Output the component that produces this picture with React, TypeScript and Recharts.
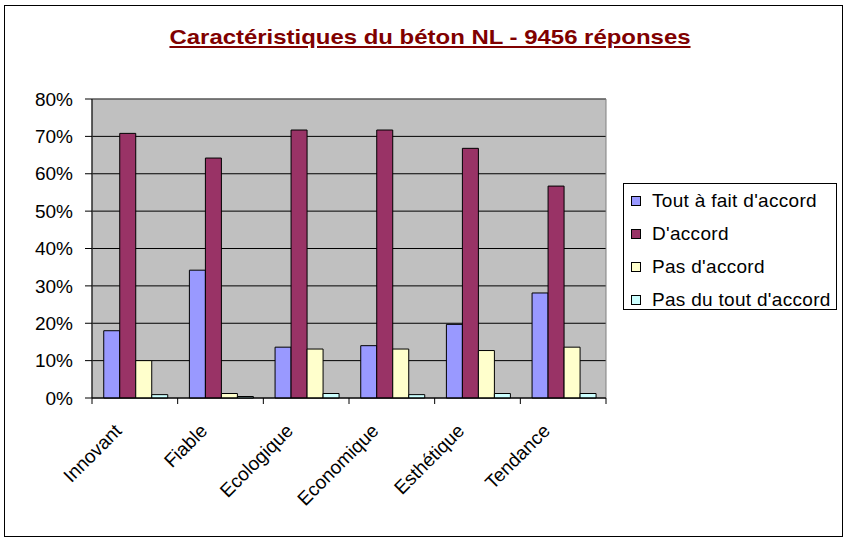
import React from 'react';
import {
  BarChart,
  Bar,
  XAxis,
  YAxis,
  CartesianGrid,
  Legend,
  ReferenceArea,
} from 'recharts';

const categories = ['Innovant', 'Fiable', 'Ecologique', 'Economique', 'Esthétique', 'Tendance'];
const toutAFait = [18.0, 34.2, 13.6, 14.0, 19.7, 28.1];
const dAccord = [70.8, 64.2, 71.7, 71.7, 66.8, 56.7];
const pasDAccord = [10.0, 1.2, 13.1, 13.1, 12.7, 13.6];
const pasDuTout = [0.9, 0.4, 1.2, 0.9, 1.2, 1.2];
const yTicks = [0, 10, 20, 30, 40, 50, 60, 70, 80];

const series = [
  { key: 'toutAFait', name: "Tout à fait d'accord", color: '#9999FF' },
  { key: 'dAccord', name: "D'accord", color: '#993366' },
  { key: 'pasDAccord', name: "Pas d'accord", color: '#FFFFCC' },
  { key: 'pasDuTout', name: "Pas du tout d'accord", color: '#CCFFFF' },
];

const data = categories.map((c, i) => ({
  name: c,
  toutAFait: toutAFait[i],
  dAccord: dAccord[i],
  pasDAccord: pasDAccord[i],
  pasDuTout: pasDuTout[i],
}));

const FONT = '"Liberation Sans", Arial, sans-serif';
const AXIS_Y = 398;

// rotated category label + Excel-style tick marks between categories
const XTick = (props: any) => {
  const { x, y, payload, index, visibleTicksCount } = props;
  const half = payload && payload.offset ? payload.offset : 0;
  const tx = x - 12;
  const ty = y + 26;
  const last = visibleTicksCount ? index === visibleTicksCount - 1 : false;
  return (
    <g>
      {half > 0 && <line x1={x - half} x2={x - half} y1={AXIS_Y} y2={AXIS_Y + 6} stroke="#000" />}
      {half > 0 && last && <line x1={x + half} x2={x + half} y1={AXIS_Y} y2={AXIS_Y + 6} stroke="#000" />}
      <text
        x={tx}
        y={ty}
        transform={`rotate(-45 ${tx} ${ty})`}
        textAnchor="end"
        fontSize={19}
        fontFamily={FONT}
        fill="#000"
      >
        {payload.value}
      </text>
    </g>
  );
};

const LegendBox = () => (
  <div
    style={{
      width: 214,
      height: 127,
      border: '1px solid #000',
      background: '#fff',
      boxSizing: 'border-box',
      fontFamily: FONT,
      fontSize: 19,
      letterSpacing: 0.3,
      overflow: 'visible',
    }}
  >
    {series.map((s) => (
      <div
        key={s.key}
        style={{ display: 'flex', alignItems: 'center', height: 33, paddingLeft: 7, whiteSpace: 'nowrap' }}
      >
        <span
          style={{
            width: 8,
            height: 8,
            background: s.color,
            border: '1px solid #000',
            display: 'inline-block',
            marginRight: 11,
            flexShrink: 0,
          }}
        />
        <span>{s.name}</span>
      </div>
    ))}
  </div>
);

export default function App() {
  return (
    <div style={{ position: 'absolute', left: 0, top: 0, width: 845, height: 539, background: '#fff' }}>
      <div
        style={{
          position: 'absolute',
          left: 4,
          top: 5,
          width: 839,
          height: 532,
          border: '1px solid #000',
          boxSizing: 'border-box',
        }}
      />
      <div
        style={{
          position: 'absolute',
          left: 0,
          top: 25,
          width: 860,
          textAlign: 'center',
          fontFamily: FONT,
          fontWeight: 'bold',
          fontSize: 21,
          color: '#800000',
          textDecoration: 'underline',
          transform: 'scaleX(1.14)',
          transformOrigin: '430px 0',
          whiteSpace: 'nowrap',
        }}
      >
        Caractéristiques du béton NL - 9456 réponses
      </div>
      <div style={{ position: 'absolute', left: 0, top: 0 }}>
        <BarChart
          width={845}
          height={539}
          data={data}
          margin={{ top: 99, right: 239, bottom: 41, left: 32 }}
          barCategoryGap="13.7%"
          barGap={0}
        >
          <CartesianGrid vertical={false} stroke="#000" fill="#C0C0C0" fillOpacity={1} />
          <ReferenceArea y1={0} y2={80} fill="none" stroke="#808080" strokeWidth={1} />
          <XAxis
            dataKey="name"
            height={100}
            tick={<XTick />}
            tickLine={false}
            axisLine={{ stroke: '#000' }}
            interval={0}
          />
          <YAxis
            width={60}
            domain={[0, 80]}
            ticks={yTicks}
            tickFormatter={(v: number) => `${v}%`}
            tick={{ fontSize: 19, fontFamily: FONT, fill: '#000' }}
            tickLine={{ stroke: '#000' }}
            tickSize={7}
            tickMargin={12}
            axisLine={{ stroke: '#000' }}
            interval={0}
          />
          <Legend
            layout="vertical"
            align="center"
            verticalAlign="middle"
            content={<LegendBox />}
            wrapperStyle={{ left: 623, top: 183, width: 214, height: 127 }}
          />
          {series.map((s) => (
            <Bar
              key={s.key}
              dataKey={s.key}
              name={s.name}
              fill={s.color}
              stroke="#000"
              strokeWidth={1}
              isAnimationActive={false}
            />
          ))}
        </BarChart>
      </div>
    </div>
  );
}
